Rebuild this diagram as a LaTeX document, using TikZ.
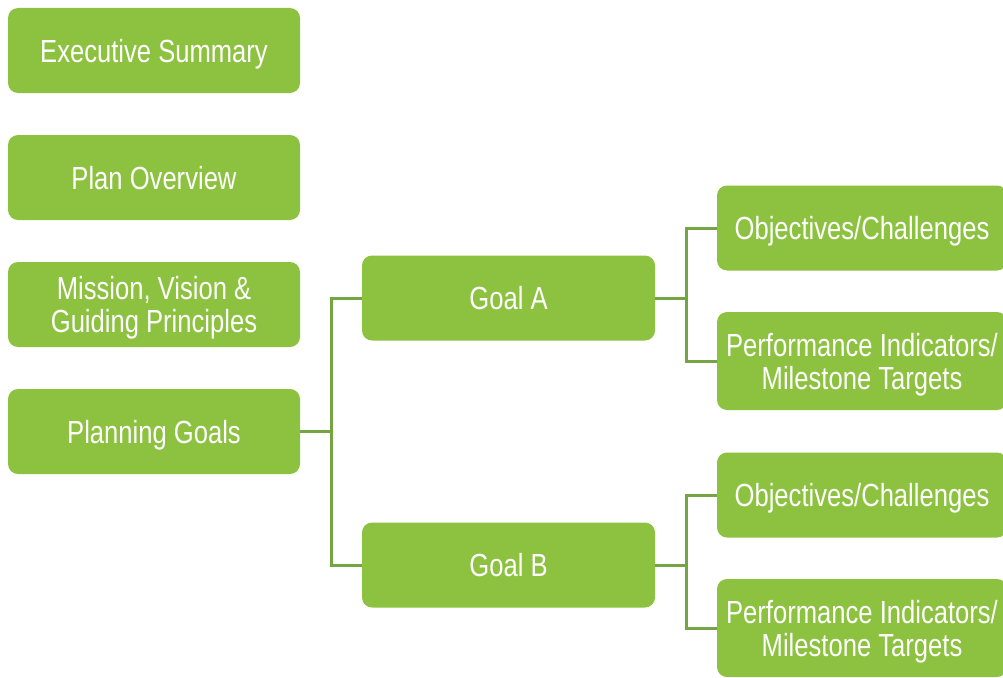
\documentclass[tikz,border=0pt]{standalone}
\usepackage{fontspec}
\setmainfont{Liberation Sans}[FakeStretch=0.80]
\usepackage{tikz}
\usetikzlibrary{
    arrows.meta,        % frecce moderne
    calc,               % calcoli con coordinate
    positioning         % posizionamento dei nodi
}

\definecolor{verdebox}{HTML}{8CC23F}
\definecolor{verdelinea}{HTML}{74A542}

\tikzset{
    blocco/.style={fill=verdebox, rounded corners=10pt, text=white,
        minimum width=292pt, minimum height=85pt, align=center,
        font=\fontsize{32}{33}\selectfont, inner sep=0pt, text depth=0pt},
    bloccoalto/.style={blocco, minimum height=98pt},
    ramo/.style={draw=verdelinea, line width=3pt}
}

\begin{document}
\begin{tikzpicture}[x=1pt,y=-1pt]

        \useasboundingbox (0,0) rectangle (1003,677);
        \clip (0,0) rectangle (1003,677);

        % Colonna di sinistra
        \node[blocco] (exec) at (154,50.5) {Executive Summary};
        \node[blocco] (overview) at (154,177.5) {Plan Overview};
        \node[blocco] (mission) at (154,304.5) {Mission, Vision \&\\Guiding Principles};
        \node[blocco] (goals) at (154,431.5) {Planning Goals};

        % Obiettivi
        \node[blocco, minimum width=293pt] (goalA) at (508.5,298) {Goal A};
        \node[blocco, minimum width=293pt] (goalB) at (508.5,565) {Goal B};

        % Colonna di destra
        \node[blocco, minimum width=290pt] (objA) at (862,228) {Objectives/Challenges};
        \node[bloccoalto, minimum width=290pt] (perfA) at (862,361) {Performance Indicators/\\Milestone Targets};
        \node[blocco, minimum width=290pt] (objB) at (862,495) {Objectives/Challenges};
        \node[bloccoalto, minimum width=290pt] (perfB) at (862,628) {Performance Indicators/\\Milestone Targets};

        % Rami: Planning Goals -> Goal A / Goal B
        \coordinate (snodo1) at ($(goals.east)+(31,0)$);
        \draw[ramo] (goals.east) -- (snodo1);
        \draw[ramo] (goalA.west) -| (snodo1) |- (goalB.west);

        % Rami: Goal A -> obiettivi e indicatori
        \coordinate (snodo2) at ($(goalA.east)+(31,0)$);
        \draw[ramo] (goalA.east) -- (snodo2);
        \draw[ramo] (objA.west) -| (snodo2) |- (perfA.west);

        % Rami: Goal B -> obiettivi e indicatori
        \coordinate (snodo3) at ($(goalB.east)+(31,0)$);
        \draw[ramo] (goalB.east) -- (snodo3);
        \draw[ramo] (objB.west) -| (snodo3) |- (perfB.west);

    \end{tikzpicture}
\end{document}
